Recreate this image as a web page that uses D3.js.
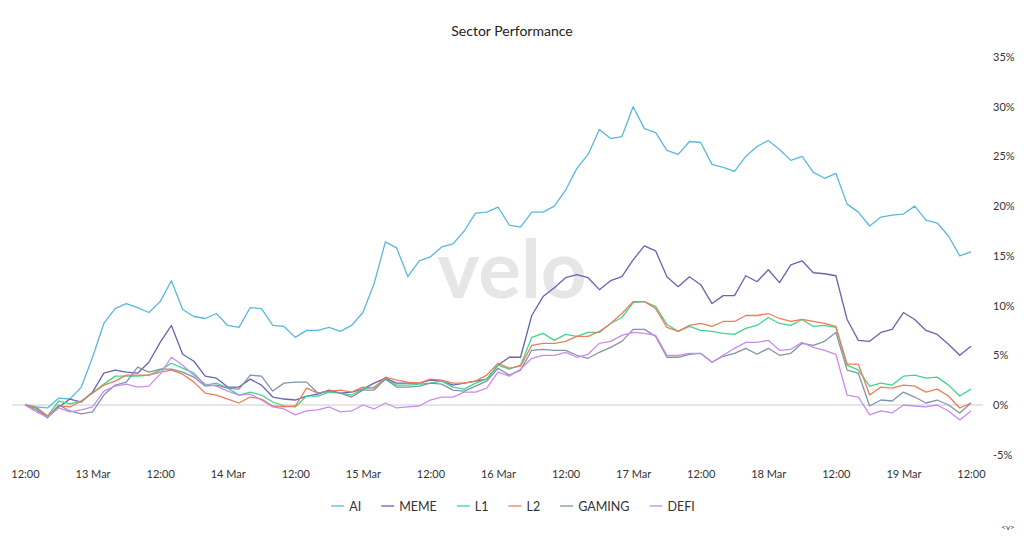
<!DOCTYPE html>
<html>
<head>
<meta charset="utf-8">
<script src="https://cdn.jsdelivr.net/npm/d3@7"></script>
<style>
  html, body { margin: 0; padding: 0; background: #fff; }
  svg { display: block; font-family: Lato, "Open Sans", sans-serif; }
</style>
</head>
<body>
<svg id="chart" width="1024" height="536"></svg>
<script>
// 2-hourly samples, 12 Mar 12:00 -> 19 Mar 12:00 (% change)
const sectors = ['AI', 'MEME', 'L1', 'L2', 'GAMING', 'DEFI'];
const colors = ['#5ab7de', '#6a62b0', '#3fd68e', '#f07c58', '#8094a8', '#c98bef'];

const ai = [0, -0.2, -0.3, 0.7, 0.6, 1.8, 4.8, 8.2, 9.7, 10.2, 9.8, 9.3, 10.4, 12.5, 9.6, 8.9, 8.7, 9.2, 8.0, 7.8,
  9.8, 9.7, 8.0, 7.9, 6.8, 7.5, 7.5, 7.8, 7.4, 8.0, 9.3, 12.2, 16.4, 15.8, 12.9, 14.5, 14.9, 15.9, 16.2, 17.5,
  19.3, 19.4, 19.9, 18.1, 17.9, 19.4, 19.4, 20.0, 21.6, 23.8, 25.2, 27.7, 26.8, 27.0, 30.0, 27.8, 27.4, 25.6, 25.2, 26.5,
  26.4, 24.2, 23.9, 23.5, 25.0, 26.0, 26.6, 25.7, 24.6, 25.0, 23.4, 22.8, 23.3, 20.2, 19.4, 18.0, 18.9, 19.1, 19.2, 20.0,
  18.6, 18.3, 17.0, 15.0, 15.4];
const meme = [0, -0.3, -1.2, -0.2, 0.6, 0.3, 1.3, 3.2, 3.5, 3.3, 3.2, 4.3, 6.3, 8.0, 5.1, 4.4, 2.9, 2.7, 1.8, 1.8,
  2.6, 2.0, 0.8, 0.6, 0.5, 0.9, 1.1, 1.5, 1.2, 1.3, 1.6, 2.2, 2.7, 2.2, 2.2, 2.2, 2.5, 2.4, 2.0, 2.2,
  2.4, 2.6, 4.0, 4.8, 4.8, 9.0, 10.9, 11.8, 12.8, 13.1, 12.8, 11.6, 12.5, 12.9, 14.6, 16.0, 15.5, 12.9, 11.9, 12.9,
  12.1, 10.2, 11.0, 11.0, 13.0, 12.4, 13.6, 12.3, 14.1, 14.5, 13.3, 13.2, 13.0, 8.6, 6.5, 6.4, 7.3, 7.6, 9.3, 8.6,
  7.5, 7.1, 6.1, 5.0, 5.9];
const l1 = [0, -0.2, -1.1, 0.4, 0.1, 0.4, 1.2, 2.1, 2.9, 2.9, 2.9, 3.0, 3.5, 4.2, 3.7, 3.2, 2.0, 2.2, 1.7, 1.0,
  1.3, 1.0, 0.3, -0.1, -0.2, 0.9, 0.9, 1.3, 1.2, 1.0, 1.6, 1.8, 2.6, 2.0, 2.0, 2.1, 2.2, 2.4, 1.8, 1.6,
  2.2, 2.6, 4.0, 3.6, 4.0, 6.8, 7.2, 6.5, 7.1, 6.9, 7.3, 7.3, 8.2, 8.8, 10.3, 10.4, 9.9, 8.1, 7.4, 7.9,
  7.5, 7.4, 7.2, 7.1, 7.7, 8.0, 8.8, 8.2, 8.0, 8.6, 7.9, 8.0, 7.8, 4.0, 3.5, 1.9, 2.2, 2.0, 2.9, 3.0,
  2.7, 2.8, 2.0, 0.9, 1.6];
const l2 = [0, -0.3, -1.1, -0.1, -0.2, 0.4, 1.2, 2.0, 2.4, 3.0, 3.0, 3.0, 3.3, 3.5, 3.1, 2.3, 1.2, 1.0, 0.6, 0.2,
  0.8, 0.6, -0.1, -0.2, -0.1, 1.7, 1.2, 1.4, 1.5, 1.3, 1.8, 1.7, 2.8, 2.5, 2.3, 2.2, 2.6, 2.5, 2.2, 2.2,
  2.4, 3.0, 4.2, 3.7, 3.9, 6.0, 6.2, 6.2, 6.4, 6.9, 6.9, 7.4, 8.2, 9.2, 10.4, 10.4, 9.7, 7.8, 7.4, 8.0,
  8.2, 7.9, 8.4, 8.4, 9.0, 9.0, 9.2, 8.7, 8.4, 8.6, 8.4, 8.2, 7.9, 4.1, 4.1, 1.0, 1.8, 1.7, 2.0, 1.9,
  1.3, 1.6, 0.9, -0.3, 0.2];
const gaming = [0, -0.5, -1.3, 0.0, -0.6, -0.9, -0.7, 1.0, 2.0, 2.3, 3.8, 3.3, 3.6, 3.6, 3.3, 2.8, 1.9, 2.0, 1.7, 1.6,
  3.0, 2.9, 1.4, 2.2, 2.3, 2.3, 1.2, 1.4, 1.2, 0.8, 1.5, 1.5, 2.6, 1.8, 1.8, 1.9, 2.2, 2.1, 1.5, 1.4,
  1.9, 2.4, 3.7, 3.0, 3.5, 5.5, 5.6, 5.5, 5.5, 5.0, 4.7, 5.3, 5.8, 6.4, 7.6, 7.6, 6.9, 4.8, 4.8, 5.1,
  5.2, 4.3, 4.9, 5.2, 5.7, 5.1, 5.7, 5.0, 5.2, 6.2, 6.0, 6.4, 7.3, 3.5, 3.2, -0.1, 0.5, 0.4, 1.3, 0.8,
  0.2, 0.5, 0.0, -0.8, 0.2];
const defi = [0, -0.7, -1.2, -0.3, -0.7, -0.5, -0.2, 1.4, 1.9, 2.1, 1.8, 1.9, 3.1, 4.8, 4.0, 3.0, 2.1, 1.9, 1.4, 1.0,
  1.1, 0.5, -0.2, -0.4, -1.0, -0.6, -0.5, -0.2, -0.7, -0.6, 0.0, -0.4, 0.2, -0.3, -0.2, -0.1, 0.5, 0.8, 0.8, 1.3,
  1.3, 1.7, 3.3, 2.9, 3.6, 4.7, 5.0, 5.0, 5.3, 4.8, 5.1, 6.2, 6.4, 7.0, 7.3, 7.2, 7.0, 5.0, 5.0, 5.2,
  5.2, 4.3, 5.0, 5.7, 6.3, 6.3, 6.5, 5.5, 5.6, 6.3, 5.8, 5.5, 5.1, 1.0, 0.8, -1.0, -0.6, -0.8, 0.0, -0.1,
  -0.2, 0.0, -0.6, -1.5, -0.6];

const yTicks = [-5, 0, 5, 10, 15, 20, 25, 30, 35];

const seriesValues = [ai, meme, l1, l2, gaming, defi];
const start = Date.UTC(2025, 2, 12, 12);
const times = ai.map((_, i) => new Date(start + i * 2 * 3600 * 1000));

const svg = d3.select('#chart');
const width = 1024, height = 536;
const plotLeft = 12, plotRight = 983;

const xScale = d3.scaleUtc()
  .domain([times[0], times[times.length - 1]])
  .range([25, 971]);

const yScale = d3.scaleLinear()
  .domain([-5, 35])
  .range([454.7, 57]);

// title
svg.append('text')
  .attr('x', width / 2)
  .attr('y', 36)
  .attr('text-anchor', 'middle')
  .attr('font-size', 14)
  .attr('fill', '#222')
  .text('Sector Performance');

// watermark
svg.append('text')
  .attr('x', 512)
  .attr('y', 298)
  .attr('text-anchor', 'middle')
  .attr('font-size', 80)
  .attr('font-weight', 700)
  .attr('fill', '#e6e6e6')
  .text('velo');

// zero line
svg.append('line')
  .attr('x1', plotLeft)
  .attr('x2', plotRight)
  .attr('y1', yScale(0))
  .attr('y2', yScale(0))
  .attr('stroke', '#dcdcdc')
  .attr('stroke-width', 1.5);

// Y axis on the right
svg.append('g')
  .attr('transform', `translate(990,0)`)
  .call(d3.axisRight(yScale).tickValues(yTicks).tickSize(0).tickPadding(3).tickFormat(d => d + '%'))
  .call(g => g.select('.domain').remove())
  .call(g => g.selectAll('.tick text')
    .attr('fill', '#333')
    .attr('font-size', 11)
    .attr('font-family', 'Lato, sans-serif'));

// X axis
const fmtDay = d3.utcFormat('%-d %b');
const fmtHour = d3.utcFormat('%H:%M');
svg.append('g')
  .attr('transform', `translate(0,470)`)
  .call(d3.axisBottom(xScale)
    .ticks(d3.utcHour.every(12))
    .tickSize(0)
    .tickPadding(0)
    .tickFormat(d => d.getUTCHours() === 0 ? fmtDay(d) : fmtHour(d)))
  .call(g => g.select('.domain').remove())
  .call(g => g.selectAll('.tick text')
    .attr('fill', '#333')
    .attr('font-size', 11)
    .attr('font-family', 'Lato, sans-serif'));

// lines
const line = d3.line()
  .x((d, i) => xScale(times[i]))
  .y(d => yScale(d));

svg.append('g')
  .selectAll('path')
  .data(seriesValues)
  .enter()
  .append('path')
  .attr('d', d => line(d))
  .attr('fill', 'none')
  .attr('stroke', (d, i) => colors[i])
  .attr('stroke-width', 1.3)
  .attr('stroke-linejoin', 'round');

// legend
const legend = svg.append('g');
let lx = 0;
sectors.forEach((name, i) => {
  const item = legend.append('g').attr('transform', `translate(${lx},0)`);
  item.append('line')
    .attr('x1', 0).attr('x2', 13)
    .attr('y1', 0).attr('y2', 0)
    .attr('stroke', colors[i])
    .attr('stroke-width', 1.3);
  const t = item.append('text')
    .attr('x', 18)
    .attr('y', 4.5)
    .attr('font-size', 12.5)
    .attr('fill', '#333')
    .text(name);
  lx += 18 + t.node().getComputedTextLength() + 20;
});
const legendWidth = lx - 20;
legend.attr('transform', `translate(${(width - legendWidth) / 2 + 1},506)`);

// little nav marker bottom right
svg.append('text')
  .attr('x', 1008)
  .attr('y', 530)
  .attr('text-anchor', 'middle')
  .attr('font-size', 8)
  .attr('fill', '#333')
  .text('<v>');
</script>
</body>
</html>
